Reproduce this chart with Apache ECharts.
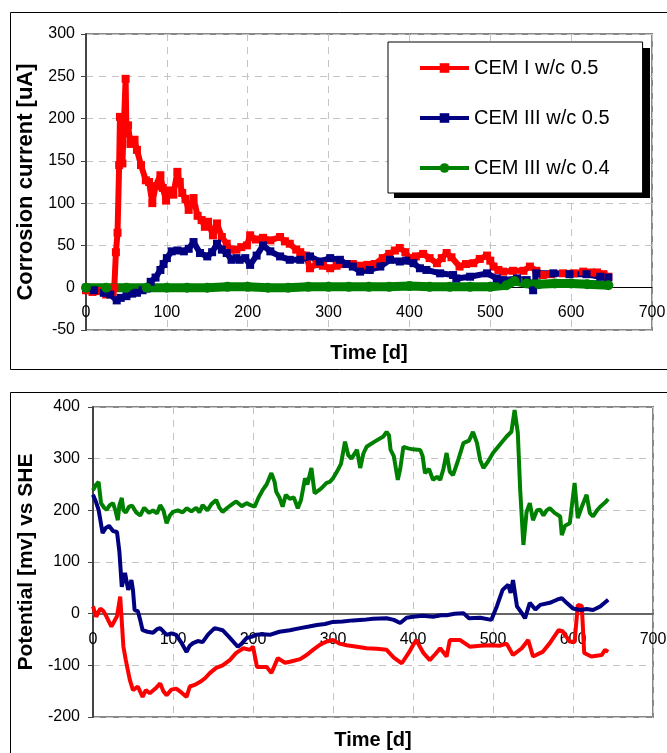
<!DOCTYPE html>
<html>
<head>
<meta charset="utf-8">
<script src="https://cdn.jsdelivr.net/npm/echarts@6/dist/echarts.min.js"></script>
<style>
  html, body { margin: 0; padding: 0; background: #fff; }
  #chart1 { width: 667px; height: 753px; }
</style>
</head>
<body>
<div id="chart1"></div>
<script>
// names
var seriesNames = ['CEM I w/c 0.5', 'CEM III w/c 0.5', 'CEM III w/c 0.4'];
var xTicks = [0, 100, 200, 300, 400, 500, 600, 700];

// corrosion current [uA] - top chart
var curRedDays = [0, 8, 15, 25, 33, 35, 37, 39, 41, 42, 44, 45, 47, 49, 50, 52, 55, 60, 63, 68, 74, 78, 82, 86, 92, 95, 99, 104, 108, 113, 116, 119, 123, 127, 133, 138, 143, 147, 151, 157, 162, 168, 174, 179, 186, 192, 199, 203, 210, 219, 228, 240, 246, 252, 260, 265, 272, 277, 285, 293, 302, 310, 320, 330, 340, 348, 357, 367, 375, 382, 388, 395, 400, 408, 417, 425, 434, 440, 446, 452, 462, 470, 479, 487, 496, 500, 504, 510, 516, 528, 541, 549, 557, 565, 575, 590, 603, 615, 625, 632, 640, 646];
var curRed = [-3, -5, -4, -8, -6, 0, 42, 65, 145, 202, 170, 147, 195, 247, 185, 192, 170, 175, 163, 145, 127, 125, 100, 120, 133, 118, 103, 115, 110, 137, 125, 112, 105, 92, 106, 85, 80, 72, 78, 62, 76, 60, 52, 45, 45, 48, 50, 62, 57, 59, 56, 60, 55, 52, 45, 42, 38, 23, 28, 26, 23, 26, 28, 28, 26, 27, 28, 35, 40, 44, 47, 42, 35, 37, 40, 35, 29, 35, 41, 36, 25, 28, 29, 34, 38, 32, 25, 21, 19, 20, 20, 25, 20, 15, 16, 17, 17, 19, 18, 18, 16, 13];

var curBlueDays = [0, 10, 22, 30, 38, 43, 50, 57, 63, 70, 75, 80, 86, 92, 96, 100, 106, 113, 121, 127, 133, 141, 150, 156, 162, 168, 174, 180, 186, 190, 197, 203, 211, 219, 228, 240, 252, 265, 277, 289, 302, 314, 322, 330, 339, 351, 364, 376, 388, 396, 405, 413, 421, 438, 454, 458, 475, 496, 508, 516, 533, 545, 553, 557, 578, 598, 619, 636, 646];
var curBlue = [0, -3, -6, -8, -15, -12, -10, -7, -6, -3, -1, 7, 12, 21, 28, 35, 43, 44, 43, 46, 54, 41, 37, 42, 52, 45, 41, 33, 35, 33, 35, 27, 38, 50, 43, 37, 33, 33, 37, 31, 35, 33, 28, 25, 19, 21, 25, 33, 31, 32, 29, 23, 21, 17, 15, 11, 13, 17, 11, 9, 11, 9, -3, 17, 17, 16, 16, 13, 12];

var curGreenDays = [0, 25, 50, 75, 100, 125, 150, 175, 200, 225, 250, 275, 300, 325, 350, 375, 400, 425, 450, 475, 500, 520, 530, 545, 560, 580, 600, 620, 646];
var curGreen = [0, 0, 0, 0, 0, 0, 0, 1, 1, 0, 0, 1, 1, 1, 1, 1, 2, 1, 1, 1, 1, 3, 8, 5, 4, 5, 5, 4, 3];

// potential [mV] vs SHE - bottom chart
var potRedDays = [0, 4, 9, 13, 17, 23, 30, 34, 38, 41, 46, 50, 56, 62, 66, 71, 78, 84, 88, 92, 98, 104, 110, 117, 121, 127, 134, 140, 146, 154, 162, 171, 179, 188, 196, 200, 205, 217, 223, 231, 240, 246, 259, 267, 275, 284, 292, 300, 308, 317, 330, 342, 355, 367, 376, 386, 395, 400, 404, 413, 421, 428, 434, 442, 446, 459, 471, 484, 496, 509, 517, 525, 536, 544, 550, 562, 571, 582, 587, 596, 602, 606, 611, 614, 623, 636, 640, 644];
var potRed = [14, -6, 10, 5, -6, -25, -5, 33, -64, -90, -128, -148, -141, -161, -148, -154, -145, -135, -150, -158, -147, -145, -152, -161, -141, -138, -132, -125, -115, -105, -100, -90, -76, -67, -70, -64, -103, -103, -115, -86, -95, -93, -88, -80, -70, -60, -54, -51, -58, -61, -64, -67, -68, -70, -85, -96, -75, -61, -51, -76, -90, -78, -67, -83, -51, -51, -64, -62, -61, -62, -58, -80, -67, -51, -83, -74, -57, -32, -34, -54, -55, 17, 15, -76, -83, -80, -70, -74];

var potBlueDays = [0, 4, 7, 12, 16, 20, 25, 30, 33, 36, 40, 44, 48, 50, 52, 56, 59, 62, 68, 75, 80, 84, 92, 98, 104, 110, 117, 121, 125, 131, 137, 144, 152, 157, 162, 170, 181, 186, 192, 198, 204, 212, 221, 233, 246, 259, 270, 280, 290, 300, 312, 325, 338, 350, 367, 376, 384, 392, 400, 412, 425, 435, 442, 452, 463, 470, 484, 498, 505, 512, 519, 522, 525, 530, 536, 540, 546, 553, 559, 571, 580, 586, 592, 600, 609, 617, 625, 634, 644];
var potBlue = [230, 215, 201, 156, 166, 170, 160, 158, 120, 52, 79, 46, 65, 45, 7, 5, -12, -32, -35, -37, -30, -28, -41, -38, -41, -55, -74, -62, -57, -53, -55, -40, -28, -30, -32, -45, -64, -58, -47, -45, -41, -40, -41, -35, -32, -28, -25, -22, -20, -16, -15, -13, -12, -10, -9, -12, -18, -8, -6, -4, -6, -3, -3, 0, 1, -9, -8, -12, 15, 46, 56, 40, 65, 14, 1, -9, 21, 8, 17, 21, 27, 30, 21, 10, 7, 9, 7, 14, 27];

var potGreenDays = [0, 4, 7, 10, 14, 17, 21, 25, 28, 31, 33, 36, 38, 41, 45, 49, 54, 59, 64, 70, 75, 80, 84, 88, 92, 96, 100, 106, 112, 117, 123, 129, 133, 137, 143, 148, 154, 158, 162, 168, 174, 179, 186, 192, 197, 202, 207, 212, 217, 223, 227, 229, 233, 237, 241, 246, 251, 256, 260, 265, 268, 273, 277, 285, 292, 296, 300, 305, 310, 315, 319, 323, 330, 334, 338, 342, 352, 363, 367, 370, 372, 376, 381, 384, 388, 394, 400, 409, 412, 415, 420, 425, 430, 434, 438, 442, 446, 450, 456, 463, 470, 475, 480, 484, 488, 494, 500, 510, 517, 523, 527, 531, 534, 538, 542, 546, 550, 555, 559, 563, 567, 571, 577, 584, 586, 590, 596, 602, 606, 611, 617, 621, 625, 630, 634, 640, 644];
var potGreen = [239, 250, 255, 214, 205, 201, 210, 214, 200, 181, 210, 224, 200, 196, 207, 209, 196, 190, 205, 195, 200, 194, 210, 200, 175, 190, 197, 200, 196, 204, 198, 205, 196, 210, 200, 212, 220, 205, 197, 205, 212, 217, 208, 214, 210, 207, 225, 239, 250, 272, 255, 236, 225, 207, 230, 222, 225, 204, 220, 262, 250, 282, 233, 242, 253, 255, 262, 275, 290, 333, 307, 300, 317, 282, 310, 323, 333, 343, 352, 345, 317, 305, 259, 280, 323, 320, 318, 317, 305, 272, 280, 259, 265, 259, 280, 311, 275, 268, 295, 330, 335, 352, 330, 297, 282, 295, 311, 330, 343, 352, 394, 350, 239, 133, 197, 214, 181, 200, 201, 190, 200, 204, 195, 188, 152, 170, 175, 253, 185, 207, 230, 195, 188, 200, 207, 215, 222];

function pairs(xs, ys) {
    return xs.map(function (x, i) { return [x, ys[i]]; });
}

var FONT = 'Liberation Sans';
var colors = ['#ff0000', '#000080', '#008000'];

// labels sit at grid bottom, so margins are pulled up to the zero line
function xAxisFor(gridIndex, lineColor, lineWidth, labelMargin, nameGap) {
    return {
        gridIndex: gridIndex,
        type: 'value',
        min: xTicks[0],
        max: xTicks[xTicks.length - 1],
        interval: 100,
        name: 'Time [d]',
        nameLocation: 'middle',
        nameGap: nameGap,
        nameTextStyle: { fontFamily: FONT, fontSize: 20, fontWeight: 'bold', color: '#000' },
        axisLine: { onZero: true, lineStyle: { color: lineColor, width: lineWidth } },
        axisTick: { show: false },
        axisLabel: { margin: labelMargin, fontFamily: FONT, fontSize: 16, color: '#000' },
        splitLine: { show: true, lineStyle: { color: '#c4c4c4', type: [7, 6], width: 1 } }
    };
}

function yAxisFor(gridIndex, min, max, step, name, nameGap, nameSize, labelMargin) {
    return {
        gridIndex: gridIndex,
        type: 'value',
        min: min,
        max: max,
        interval: step,
        name: name,
        nameLocation: 'middle',
        nameGap: nameGap,
        nameTextStyle: { fontFamily: FONT, fontSize: nameSize, fontWeight: 'bold', color: '#000' },
        axisLine: { show: true, lineStyle: { color: '#444', width: 2 } },
        axisTick: { show: true, length: 5, lineStyle: { color: '#444' } },
        axisLabel: { margin: labelMargin, fontFamily: FONT, fontSize: 16, color: '#000' },
        splitLine: { show: true, lineStyle: { color: '#c4c4c4', type: [7, 6], width: 1 } }
    };
}

var myChart = echarts.init(document.getElementById('chart1'));
myChart.setOption({
    animation: false,
    backgroundColor: '#fff',
    // outer frames + legend drop shadow
    graphic: [
        { type: 'rect', shape: { x: 10.5, y: 12.5, width: 680, height: 357 }, style: { fill: null, stroke: '#000', lineWidth: 1 }, z: -1 },
        { type: 'rect', shape: { x: 10.5, y: 392.5, width: 680, height: 400 }, style: { fill: null, stroke: '#000', lineWidth: 1 }, z: -1 },
        { type: 'rect', shape: { x: 394, y: 48, width: 256, height: 150 }, style: { fill: '#000' }, z: 3 }
    ],
    grid: [
        { left: 86, top: 34, width: 566, height: 296, show: true, borderColor: '#888', borderWidth: 2, backgroundColor: '#fff', outerBoundsMode: 'none', containLabel: false },
        { left: 93, top: 407, width: 560, height: 310, show: true, borderColor: '#888', borderWidth: 2, backgroundColor: '#fff', outerBoundsMode: 'none', containLabel: false }
    ],
    legend: {
        data: seriesNames,
        orient: 'vertical',
        left: 388,
        top: 42,
        itemWidth: 49,
        itemHeight: 12,
        itemGap: 30,
        padding: [16, 33, 15, 30],
        backgroundColor: '#fff',
        borderColor: '#000',
        borderWidth: 1,
        selectedMode: false,
        z: 5,
        lineStyle: { width: 4 },
        textStyle: { fontFamily: FONT, fontSize: 20, color: '#000' }
    },
    xAxis: [
        xAxisFor(0, '#000', 1, -25, 13),
        xAxisFor(1, '#666', 2, -85, 13)
    ],
    yAxis: [
        yAxisFor(0, -50, 300, 50, 'Corrosion current [uA]', 44, 22, 11),
        yAxisFor(1, -200, 400, 100, 'Potential [mv] vs SHE', 55, 21, 13)
    ],
    series: [
        {
            name: seriesNames[0], type: 'line', xAxisIndex: 0, yAxisIndex: 0,
            data: pairs(curRedDays, curRed),
            symbol: 'rect', symbolSize: 8, showSymbol: true,
            lineStyle: { color: colors[0], width: 6 }, itemStyle: { color: colors[0] }
        },
        {
            name: seriesNames[1], type: 'line', xAxisIndex: 0, yAxisIndex: 0,
            data: pairs(curBlueDays, curBlue),
            symbol: 'rect', symbolSize: 8, showSymbol: true,
            lineStyle: { color: colors[1], width: 6 }, itemStyle: { color: colors[1] }
        },
        {
            name: seriesNames[2], type: 'line', xAxisIndex: 0, yAxisIndex: 0,
            data: pairs(curGreenDays, curGreen),
            symbol: 'circle', symbolSize: 10, showSymbol: true,
            lineStyle: { color: colors[2], width: 9 }, itemStyle: { color: colors[2] }
        },
        {
            name: seriesNames[0], type: 'line', xAxisIndex: 1, yAxisIndex: 1,
            data: pairs(potRedDays, potRed), symbol: 'none',
            lineStyle: { color: colors[0], width: 4 }, itemStyle: { color: colors[0] }
        },
        {
            name: seriesNames[1], type: 'line', xAxisIndex: 1, yAxisIndex: 1,
            data: pairs(potBlueDays, potBlue), symbol: 'none',
            lineStyle: { color: colors[1], width: 4 }, itemStyle: { color: colors[1] }
        },
        {
            name: seriesNames[2], type: 'line', xAxisIndex: 1, yAxisIndex: 1,
            data: pairs(potGreenDays, potGreen), symbol: 'none',
            lineStyle: { color: colors[2], width: 4 }, itemStyle: { color: colors[2] }
        }
    ]
});
</script>
</body>
</html>
